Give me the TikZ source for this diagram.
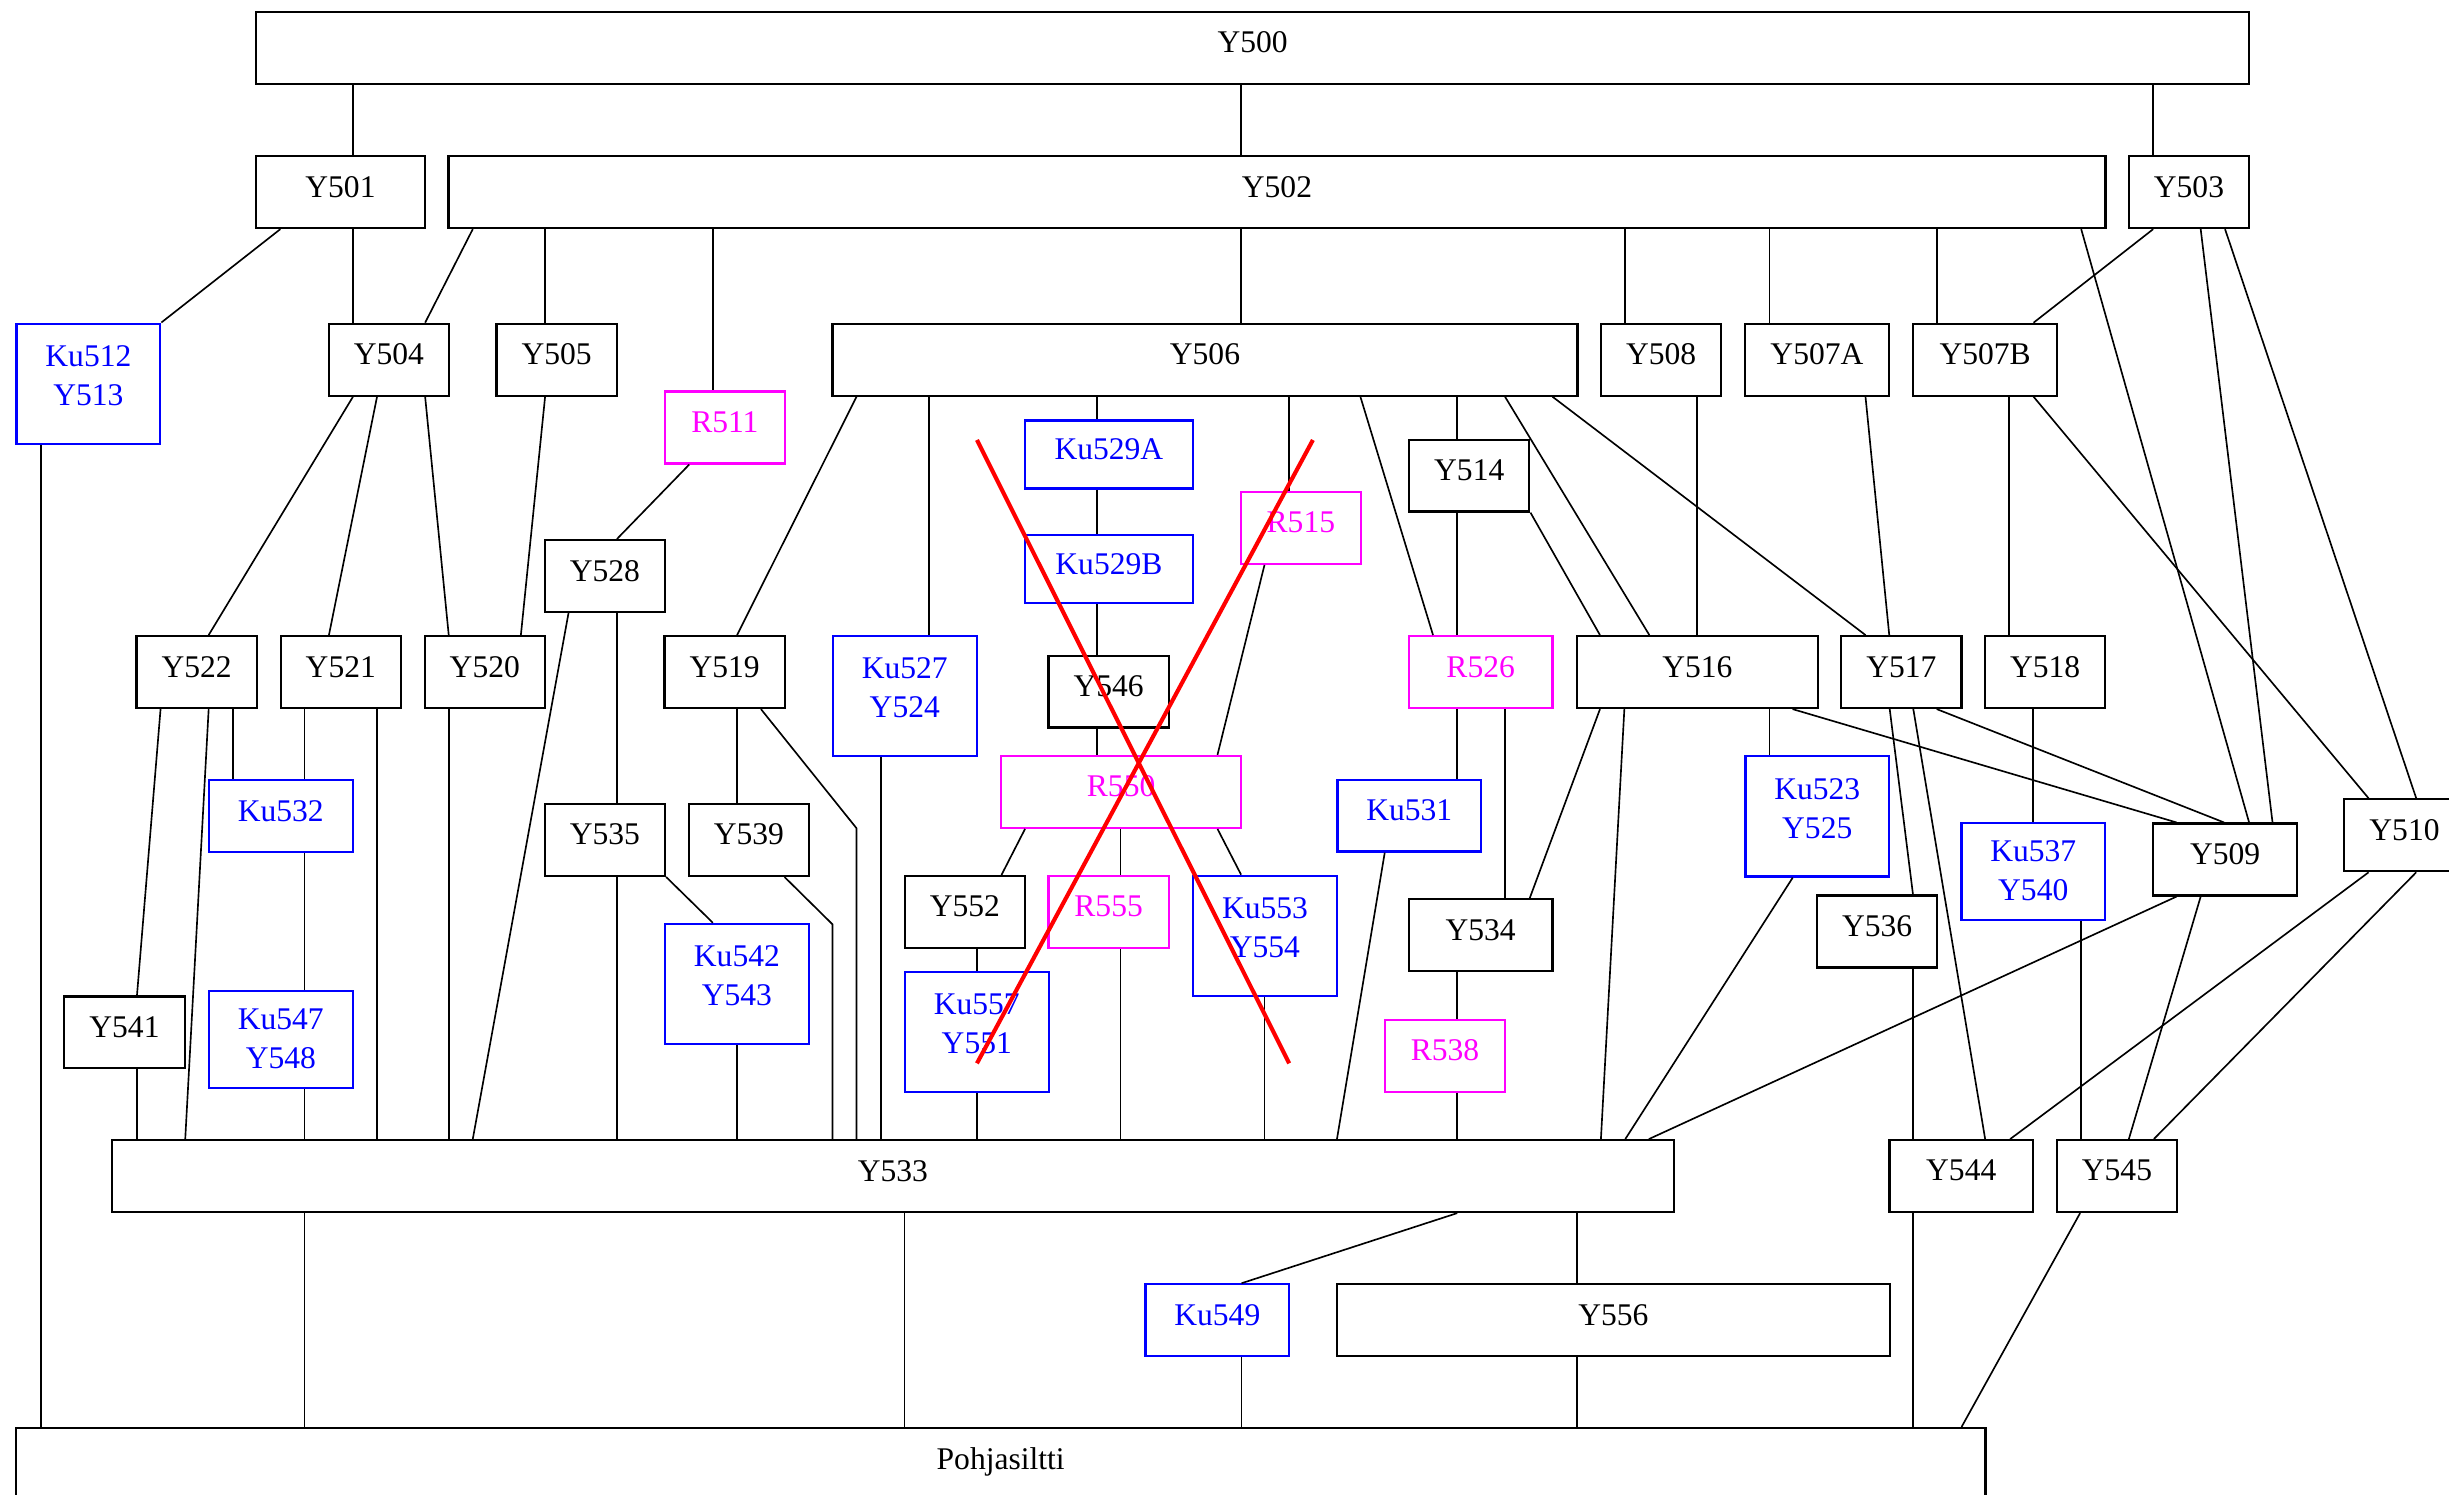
\documentclass[tikz,border=0pt]{standalone}
\usepackage{fontspec}
\setmainfont{Liberation Serif}
\usepackage{xcolor}
\definecolor{rmag}{RGB}{255,0,255}
\definecolor{kublue}{RGB}{0,0,255}

\begin{document}
\begin{tikzpicture}[
    x=0.02cm, y=-0.02cm,
    box/.style={rectangle, draw, line width=0.8pt, inner sep=0pt, align=center,
                text depth=0.4em, font=\fontsize{11.5pt}{14.2pt}\selectfont},
    ku/.style={box, draw=kublue, text=kublue},
    rr/.style={box, draw=rmag, text=rmag},
    two/.style={text depth=0.6em},
    mid/.style={text depth=0.1em},
    wh/.style 2 args={minimum width=#1*0.02cm, minimum height=#2*0.02cm},
    link/.style={line width=0.6pt},
    cross/.style={red, line width=1.5pt}
]
    \useasboundingbox (0,0) rectangle (1568,957);

    \node[box, wh={1276}{46}] (y500) at (802,30.7) {Y500};
    \node[box, wh={108}{46}] (y501) at (218,123) {Y501};
    \node[box, wh={1061}{46}] (y502) at (817.6,123) {Y502};
    \node[box, wh={77}{46}] (y503) at (1401.5,123) {Y503};
    \node[ku, two, wh={92}{77}] (ku512) at (56.6,245.7) {Ku512\\Y513};
    \node[box, wh={77}{46}] (y504) at (249,230.3) {Y504};
    \node[box, wh={77}{46}] (y505) at (356.4,230.3) {Y505};
    \node[box, wh={477}{46}] (y506) at (771.5,230.3) {Y506};
    \node[box, wh={77}{46}] (y508) at (1063.5,230.3) {Y508};
    \node[box, wh={92}{46}] (y507a) at (1163.3,230.3) {Y507A};
    \node[box, wh={92}{46}] (y507b) at (1271,230.3) {Y507B};
    \node[rr, wh={77}{46}] (r511) at (464.1,273.7) {R511};
    \node[ku, wh={107.5}{43.5}] (ku529a) at (710,291) {Ku529A};
    \node[box, wh={77}{46}] (y514) at (940.7,304.5) {Y514};
    \node[rr, wh={77}{46}] (r515) at (832.9,338) {R515};
    \node[ku, wh={107.5}{43.5}] (ku529b) at (710,364.5) {Ku529B};
    \node[box, wh={77}{46}] (y528) at (387.3,368.8) {Y528};
    \node[box, wh={77}{46}] (y522) at (125.9,430.3) {Y522};
    \node[box, wh={77}{46}] (y521) at (218.2,430.3) {Y521};
    \node[box, wh={77}{46}] (y520) at (310.4,430.3) {Y520};
    \node[box, wh={77}{46}] (y519) at (464,430.3) {Y519};
    \node[ku, two, wh={92}{77}] (ku527) at (579.3,445.6) {Ku527\\Y524};
    \node[box, wh={77}{46}] (y546) at (709.8,442.8) {Y546};
    \node[rr, wh={92}{46}] (r526) at (948,430.3) {R526};
    \node[box, wh={154}{46}] (y516) at (1086.8,430.3) {Y516};
    \node[box, wh={77}{46}] (y517) at (1217.4,430.3) {Y517};
    \node[box, wh={77}{46}] (y518) at (1309.4,430.3) {Y518};
    \node[ku, wh={92}{46}] (ku532) at (179.8,522.5) {Ku532};
    \node[rr, wh={154}{46}] (r550) at (717.8,507) {R550};
    \node[ku, wh={92}{46}] (ku531) at (902.3,522.2) {Ku531};
    \node[ku, two, wh={92}{77}] (ku523) at (1163.5,522.7) {Ku523\\Y525};
    \node[box, wh={77}{46}] (y510) at (1539.5,534.8) {Y510};
    \node[box, wh={92}{46}] (y509) at (1424.7,550.3) {Y509};
    \node[ku, mid, wh={92}{62}] (ku537) at (1301.8,558) {Ku537\\Y540};
    \node[box, wh={77}{46}] (y535) at (387.3,537.8) {Y535};
    \node[box, wh={77}{46}] (y539) at (479.5,537.8) {Y539};
    \node[box, wh={77}{46}] (y552) at (617.8,583.9) {Y552};
    \node[rr, wh={77}{46}] (r555) at (709.8,583.9) {R555};
    \node[ku, two, wh={92}{77}] (ku553) at (809.9,599.2) {Ku553\\Y554};
    \node[box, wh={92}{46}] (y534) at (948,598.8) {Y534};
    \node[box, wh={77}{46}] (y536) at (1201.8,596.4) {Y536};
    \node[ku, two, wh={92}{77}] (ku542) at (471.8,630) {Ku542\\Y543};
    \node[ku, two, wh={92}{77}] (ku557) at (625.4,660.6) {Ku557\\Y551};
    \node[ku, mid, wh={92}{62}] (ku547) at (179.8,665.7) {Ku547\\Y548};
    \node[box, wh={77}{46}] (y541) at (79.7,661) {Y541};
    \node[rr, wh={77}{46}] (r538) at (925.2,676) {R538};
    \node[box, wh={1000}{46}] (y533) at (571.7,753) {Y533};
    \node[box, wh={92}{46}] (y544) at (1255.7,753) {Y544};
    \node[box, wh={77}{46}] (y545) at (1355.4,753) {Y545};
    \node[ku, wh={92}{46}] (ku549) at (779.4,845.3) {Ku549};
    \node[box, wh={354}{46}] (y556) at (1033,845.3) {Y556};
    \node[box, wh={1261}{46}] (pohja) at (640.7,937.3) {Pohjasiltti};

    \coordinate (b519) at (548.4,530.3);
    \coordinate (b539) at (533,591.8);

    % upper levels
    \draw[link] (y500.south -| 226,0) -- (y501.north -| 226,0);
    \draw[link] (y500.south -| 794.6,0) -- (y502.north -| 794.6,0);
    \draw[link] (y500.south -| 1378.6,0) -- (y503.north -| 1378.6,0);
    \draw[link] (y501.south -| 179.5,0) -- (ku512.north east);
    \draw[link] (y501.south -| 226,0) -- (y504.north -| 226,0);
    \draw[link] (y502.south -| 302.7,0) -- (y504.north -| 272.2,0);
    \draw[link] (y502.south -| 349,0) -- (y505.north -| 349,0);
    \draw[link] (y502.south -| 456.4,0) -- (r511.north -| 456.4,0);
    \draw[link] (y502.south -| 794.6,0) -- (y506.north -| 794.6,0);
    \draw[link] (y502.south -| 1040.6,0) -- (y508.north -| 1040.6,0);
    \draw[link] (y502.south -| 1133,0) -- (y507a.north -| 1133,0);
    \draw[link] (y502.south -| 1240,0) -- (y507b.north -| 1240,0);
    \draw[link] (y502.south -| 1332.5,0) -- (y509.north -| 1440,0);
    \draw[link] (y503.south -| 1378.6,0) -- (y507b.north -| 1302,0);
    \draw[link] (y503.south -| 1409,0) -- (y509.north -| 1455,0);
    \draw[link] (y503.south -| 1424.6,0) -- (y510.north -| 1547,0);
    \draw[link] (ku512.south -| 26.1,0) -- (pohja.north -| 26.1,0);
    \draw[link] (y504.south -| 226,0) -- (y522.north -| 133.6,0);
    \draw[link] (y504.south -| 241.4,0) -- (y521.north -| 210.6,0);
    \draw[link] (y504.south -| 272.2,0) -- (y520.north -| 287.3,0);
    \draw[link] (y505.south -| 349,0) -- (y520.north -| 333.5,0);
    \draw[link] (r511.south -| 441.3,0) -- (y528.north -| 395,0);

    % from Y506
    \draw[link] (y506.south -| 548.4,0) -- (y519.north -| 471.9,0);
    \draw[link] (y506.south -| 594.7,0) -- (ku527.north -| 594.7,0);
    \draw[link] (y506.south -| 702.4,0) -- (ku529a.north -| 702.4,0);
    \draw[link] (y506.south -| 825.4,0) -- (r515.north -| 825.4,0);
    \draw[link] (y506.south -| 871,0) -- (r526.north -| 917.5,0);
    \draw[link] (y506.south -| 932.9,0) -- (y514.north -| 932.9,0);
    \draw[link] (y506.south -| 963.6,0) -- (y516.north -| 1056,0);
    \draw[link] (y506.south -| 994,0) -- (y517.north -| 1194.4,0);
    \draw[link] (y508.south -| 1086.4,0) -- (y516.north -| 1086.4,0);
    \draw[link] (y507a.south -| 1194.4,0) -- (y517.north -| 1209.6,0);
    \draw[link] (y507b.south -| 1286.3,0) -- (y518.north -| 1286.3,0);
    \draw[link] (y507b.south -| 1302,0) -- (y510.north -| 1516.5,0);
    \draw[link] (ku529a.south -| 702.4,0) -- (ku529b.north -| 702.4,0);
    \draw[link] (ku529b.south -| 702.4,0) -- (y546.north -| 702.4,0);
    \draw[link] (y546.south -| 702.4,0) -- (r550.north -| 702.4,0);
    \draw[link] (r515.south -| 809.6,0) -- (r550.north -| 779.5,0);
    \draw[link] (y514.south -| 933,0) -- (r526.north -| 933,0);
    \draw[link] (y514.south east) -- (y516.north -| 1024.4,0);

    % middle levels
    \draw[link] (y528.south -| 395,0) -- (y535.north -| 395,0);
    \draw[link] (y528.south -| 364,0) -- (y533.north -| 302.7,0);
    \draw[link] (y522.south -| 102.8,0) -- (y541.north -| 87.7,0);
    \draw[link] (y522.south -| 133.6,0) -- (y533.north -| 118.6,0);
    \draw[link] (y522.south -| 149,0) -- (ku532.north -| 149,0);
    \draw[link] (y521.south -| 194.9,0) -- (ku532.north -| 194.9,0);
    \draw[link] (y521.south -| 241.4,0) -- (y533.north -| 241.4,0);
    \draw[link] (y520.south -| 287.3,0) -- (y533.north -| 287.3,0);
    \draw[link] (y519.south -| 471.9,0) -- (y539.north -| 471.9,0);
    \draw[link] (y519.south -| 487.2,0) -- (b519) -- (y533.north -| b519);
    \draw[link] (ku527.south -| 564,0) -- (y533.north -| 564,0);
    \draw[link] (r550.south -| 656.3,0) -- (y552.north -| 641.2,0);
    \draw[link] (r550.south -| 717.5,0) -- (r555.north -| 717.5,0);
    \draw[link] (r550.south -| 779.5,0) -- (ku553.north -| 794.6,0);
    \draw[link] (r526.south -| 933,0) -- (ku531.north -| 933,0);
    \draw[link] (r526.south -| 963.6,0) -- (y534.north -| 963.6,0);
    \draw[link] (y516.south -| 1024.4,0) -- (y534.north -| 979.4,0);
    \draw[link] (y516.south -| 1040,0) -- (y533.north -| 1025,0);
    \draw[link] (y516.south -| 1133,0) -- (ku523.north -| 1133,0);
    \draw[link] (y516.south -| 1147.7,0) -- (y509.north -| 1393.6,0);
    \draw[link] (y517.south -| 1209.9,0) -- (y536.north -| 1224.8,0);
    \draw[link] (y517.south -| 1225,0) -- (y544.north -| 1271,0);
    \draw[link] (y517.south -| 1240,0) -- (y509.north -| 1424,0);
    \draw[link] (y518.south -| 1301.7,0) -- (ku537.north -| 1301.7,0);
    \draw[link] (ku532.south -| 194.9,0) -- (ku547.north -| 194.9,0);
    \draw[link] (y535.south east) -- (ku542.north -| 456.4,0);
    \draw[link] (y535.south -| 395,0) -- (y533.north -| 395,0);
    \draw[link] (y539.south -| 502.3,0) -- (b539) -- (y533.north -| b539);
    \draw[link] (ku542.south -| 471.9,0) -- (y533.north -| 471.9,0);
    \draw[link] (ku547.south -| 194.9,0) -- (y533.north -| 194.9,0);
    \draw[link] (y541.south -| 87.7,0) -- (y533.north -| 87.7,0);
    \draw[link] (y552.south -| 625.5,0) -- (ku557.north -| 625.5,0);
    \draw[link] (ku557.south -| 625.5,0) -- (y533.north -| 625.5,0);
    \draw[link] (r555.south -| 717.5,0) -- (y533.north -| 717.5,0);
    \draw[link] (ku553.south -| 809.7,0) -- (y533.north -| 809.7,0);
    \draw[link] (ku531.south -| 886.6,0) -- (y533.north -| 856,0);
    \draw[link] (y534.south -| 933,0) -- (r538.north -| 933,0);
    \draw[link] (r538.south -| 933,0) -- (y533.north -| 933,0);
    \draw[link] (ku523.south -| 1147.8,0) -- (y533.north -| 1040.6,0);
    \draw[link] (y509.south -| 1393.6,0) -- (y533.north -| 1055.7,0);
    \draw[link] (y509.south -| 1409,0) -- (y545.north -| 1363,0);
    \draw[link] (y510.south -| 1516.5,0) -- (y544.north -| 1287,0);
    \draw[link] (y510.south -| 1547,0) -- (y545.north -| 1379,0);
    \draw[link] (y536.south -| 1225,0) -- (y544.north -| 1225,0);
    \draw[link] (ku537.south -| 1332.5,0) -- (y545.north -| 1332.5,0);

    % down to Pohjasiltti
    \draw[link] (y533.south -| 194.9,0) -- (pohja.north -| 194.9,0);
    \draw[link] (y533.south -| 579.2,0) -- (pohja.north -| 579.2,0);
    \draw[link] (y533.south -| 933,0) -- (ku549.north -| 794.9,0);
    \draw[link] (y533.south -| 1009.8,0) -- (y556.north -| 1009.8,0);
    \draw[link] (ku549.south -| 794.9,0) -- (pohja.north -| 794.9,0);
    \draw[link] (y556.south -| 1009.8,0) -- (pohja.north -| 1009.8,0);
    \draw[link] (y544.south -| 1225,0) -- (pohja.north -| 1225,0);
    \draw[link] (y545.south -| 1331.8,0) -- (pohja.north -| 1255.9,0);

    % crossed out
    \draw[cross] (625.5,281.7) -- (825.4,680.8) (840.6,281.7) -- (625.5,680.8);
\end{tikzpicture}
\end{document}
